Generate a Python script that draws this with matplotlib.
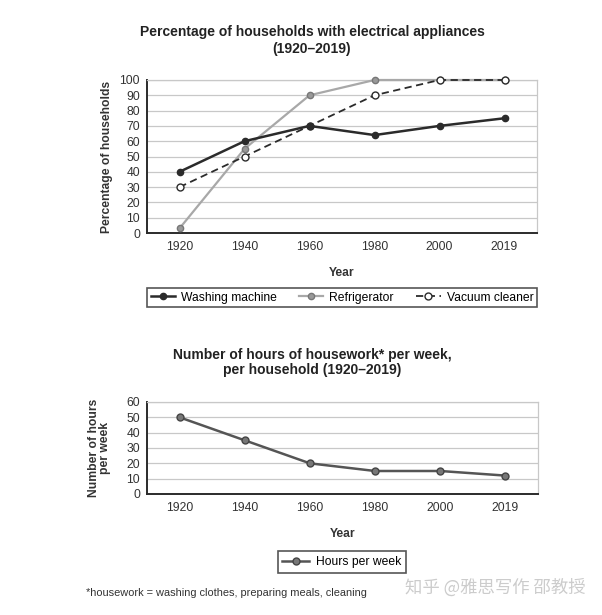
import matplotlib.pyplot as plt

W, H = 602, 615

years = ["1920", "1940", "1960", "1980", "2000", "2019"]
washing = [40, 60, 70, 64, 70, 75]
fridge = [3, 55, 90, 100, 100, 100]
vacuum = [30, 50, 70, 90, 100, 100]
hours = [50, 35, 20, 15, 15, 12]

plt.rcParams['font.family'] = ['Liberation Sans', 'DejaVu Sans']

DARK = '#2b2b2b'
LIGHT = '#a8a8a8'
GRID = '#c8c8c8'


def px_axes(fig, left, top, right, bottom):
    return fig.add_axes([left / W, 1 - bottom / H, (right - left) / W, (bottom - top) / H])


def style_axes(ax, ymax, step):
    x = range(len(years))
    ax.set_xlim(-0.5, len(years) - 0.5)
    ax.set_ylim(0, ymax)
    ax.set_yticks(range(0, ymax + 1, step))
    ax.set_xticks(list(x))
    ax.set_xticklabels(years)
    ax.tick_params(length=0, labelsize=8.7, colors='#333333', pad=5)
    ax.tick_params(axis='x', pad=6)
    ax.grid(axis='y', color=GRID, linewidth=0.9)
    ax.set_axisbelow(True)
    for s in ['top', 'right']:
        ax.spines[s].set_color(GRID)
        ax.spines[s].set_linewidth(0.9)
    for s in ['left', 'bottom']:
        ax.spines[s].set_color(DARK)
        ax.spines[s].set_linewidth(1.4)
    ax.set_xlabel('Year', fontsize=8.7, fontweight='bold', color='#333333', labelpad=10)


fig = plt.figure(figsize=(W / 100, H / 100), dpi=100)

# top chart
ax1 = px_axes(fig, 147, 80, 537, 233)
x = list(range(len(years)))
ax1.plot(x, fridge, color=LIGHT, linewidth=1.6, marker='o', markersize=4.5, clip_on=False,
         markerfacecolor='#999999', markeredgecolor='#777777', label='Refrigerator', zorder=3)
ax1.plot(x, vacuum, color=DARK, linewidth=1.3, linestyle=(0, (4, 2.5)), marker='o', markersize=5,
         markerfacecolor='white', markeredgecolor=DARK, label='Vacuum cleaner', zorder=4,
         clip_on=False)
ax1.plot(x, washing, color=DARK, linewidth=1.8, marker='o', markersize=4.5, clip_on=False,
         markerfacecolor=DARK, markeredgecolor=DARK, label='Washing machine', zorder=5)
style_axes(ax1, 100, 10)
ax1.set_ylabel('Percentage of households', fontsize=8.7, fontweight='bold', color='#333333',
               labelpad=5)

fig.text(312 / W, 1 - 32 / H, 'Percentage of households with electrical appliances',
         ha='center', va='center', fontsize=10, fontweight='bold', color='#222222')
fig.text(312 / W, 1 - 49 / H, '(1920\u20132019)', ha='center', va='center',
         fontsize=10, fontweight='bold', color='#222222')

h, l = ax1.get_legend_handles_labels()
order = [2, 0, 1]
leg1 = fig.legend([h[i] for i in order], [l[i] for i in order], loc='center',
                  bbox_to_anchor=(147 / W, 1 - 307 / H, 390 / W, 19 / H), mode='expand',
                  ncol=3, fontsize=8.7, frameon=True, fancybox=False, handlelength=2.0,
                  handletextpad=0.5, borderpad=0.3, columnspacing=1.5, borderaxespad=0)
leg1.get_frame().set_edgecolor(DARK)
leg1.get_frame().set_linewidth(1.2)

# bottom chart
ax2 = px_axes(fig, 147, 402, 538, 494)
ax2.plot(x, hours, color='#555555', linewidth=1.8, marker='o', markersize=5,
         markerfacecolor='#777777', markeredgecolor='#444444', label='Hours per week', zorder=3)
style_axes(ax2, 60, 10)
ax2.set_ylabel('Number of hours\nper week', fontsize=8.7, fontweight='bold', color='#333333',
               labelpad=11, linespacing=0.9)

fig.text(312 / W, 1 - 355 / H, 'Number of hours of housework* per week,',
         ha='center', va='center', fontsize=10, fontweight='bold', color='#222222')
fig.text(312 / W, 1 - 370 / H, 'per household (1920\u20132019)',
         ha='center', va='center', fontsize=10, fontweight='bold', color='#222222')

leg2 = fig.legend(loc='center', handles=ax2.get_legend_handles_labels()[0],
                  bbox_to_anchor=(342 / W, 1 - 562 / H), fontsize=8.7, frameon=True,
                  fancybox=False, handlelength=2.2, handletextpad=0.6, borderpad=0.4,
                  borderaxespad=0)
leg2.get_frame().set_edgecolor(DARK)
leg2.get_frame().set_linewidth(1.2)

fig.text(86 / W, 1 - 593 / H, '*housework = washing clothes, preparing meals, cleaning',
         ha='left', va='center', fontsize=7.9, color='#333333')

fig.text(405 / W, 1 - 588 / H, '知乎 @雅思写作 邵教授', ha='left', va='center',
         fontsize=12.5, color='#cccccc', family=['Noto Sans CJK SC', 'DejaVu Sans'])

fig.savefig('out.png', dpi=100, facecolor='white')
